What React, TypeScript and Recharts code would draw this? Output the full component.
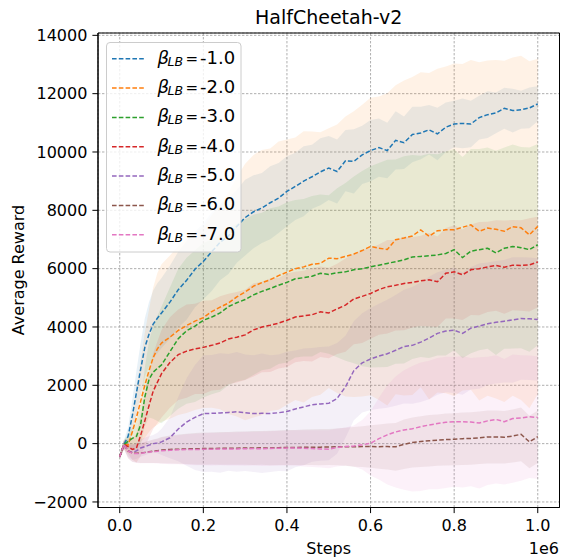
import React from 'react';
import { ComposedChart, Area, Line, XAxis, YAxis, CartesianGrid, ReferenceArea } from 'recharts';

// Steps (in units of 1e6)
const X = [
  0, 0.01, 0.02, 0.03, 0.04, 0.05, 0.06, 0.07, 0.08, 0.09, 0.1,
  0.12, 0.14, 0.16, 0.18, 0.2, 0.22, 0.24, 0.26, 0.28, 0.3,
  0.32, 0.34, 0.36, 0.38, 0.4, 0.42, 0.44, 0.46, 0.48, 0.5,
  0.52, 0.54, 0.56, 0.58, 0.6, 0.62, 0.64, 0.66, 0.68, 0.7,
  0.72, 0.74, 0.76, 0.78, 0.8, 0.82, 0.84, 0.86, 0.88, 0.9,
  0.92, 0.94, 0.96, 0.98, 1.0,
];

const mean1 = [
  -450, -30, 250, 950, 1750, 2550, 3300, 3750, 4100, 4300, 4480,
  4850, 5280, 5600, 5980, 6250, 6580, 6900, 7120, 7450, 7750,
  7950, 8080, 8260, 8420, 8650, 8820, 9000, 9150, 9320, 9450,
  9330, 9700, 9680, 9900, 10050, 10150, 10050, 10400, 10320, 10600,
  10650, 10760, 10620, 10850, 10960, 10980, 10960, 11180, 11280, 11340,
  11500, 11420, 11450, 11510, 11650,
];
const std1 = [
  80, 150, 300, 550, 750, 900, 1000, 1100, 1150, 1200, 1200,
  1250, 1300, 1350, 1300, 1300, 1350, 1300, 1300, 1250, 1300,
  1250, 1200, 1250, 1200, 1200, 1150, 1200, 1100, 1150, 1100,
  1100, 1050, 1100, 1000, 1050, 1000, 950, 1000, 900, 950,
  900, 850, 900, 850, 800, 850, 800, 750, 800, 700,
  700, 750, 650, 700, 600,
];

const mean2 = [
  -450, -30, -50, 400, 900, 1450, 2000, 2500, 2950, 3250, 3450,
  3650, 3880, 4050, 4200, 4320, 4530, 4680, 4820, 5030, 5200,
  5400, 5520, 5620, 5760, 5880, 6000, 6060, 6150, 6180, 6360,
  6340, 6420, 6500, 6620, 6760, 6700, 6660, 6990, 7050, 7120,
  7330, 7110, 7300, 7330, 7330, 7420, 7500, 7280, 7390, 7350,
  7280, 7440, 7400, 7160, 7450,
];
const std2 = [
  80, 150, 300, 600, 1000, 1400, 1800, 2100, 2400, 2600, 2700,
  2800, 2900, 3000, 3050, 3100, 3300, 3500, 3800, 4100, 4400,
  4500, 4550, 4500, 4600, 4550, 4500, 4650, 4550, 4500, 4450,
  4600, 4800, 4900, 5000, 5100, 5200, 5350, 5300, 5400, 5450,
  5400, 5600, 5550, 5600, 5700, 5600, 5650, 5800, 5750, 5800,
  5850, 5800, 5900, 5950, 5750,
];

const mean3 = [
  -450, -30, 80, 180, 250, 650, 1600, 2200, 2450, 2580, 2700,
  3150, 3600, 3870, 4030, 4230, 4340, 4480, 4700, 4830, 4940,
  5100, 5220, 5320, 5430, 5530, 5650, 5690, 5740, 5840, 5800,
  5860, 5890, 5960, 6000, 6060, 6120, 6180, 6240, 6300, 6400,
  6420, 6440, 6470, 6520, 6650, 6380, 6600, 6650, 6700, 6540,
  6700, 6760, 6720, 6650, 6820,
];
const std3 = [
  80, 150, 250, 350, 500, 700, 1000, 1300, 1600, 1800, 2000,
  2200, 2400, 2500, 2600, 2650, 2650, 2700, 2700, 2700, 2750,
  2750, 2700, 2750, 2700, 2750, 2700, 2700, 2750, 2700, 2720,
  2900, 3050, 3200, 3350, 3450, 3500, 3550, 3500, 3550, 3500,
  3450, 3500, 3450, 3500, 3450, 3450, 3500, 3450, 3450, 3500,
  3450, 3500, 3450, 3500, 3450,
];

const mean4 = [
  -450, -30, -100, -200, -150, 280, 780, 1300, 1800, 2100, 2400,
  2780, 3050, 3170, 3250, 3300, 3370, 3450, 3590, 3650, 3730,
  3900, 4000, 4060, 4130, 4230, 4340, 4380, 4420, 4520, 4480,
  4620, 4750, 4960, 5050, 5150, 5280, 5380, 5430, 5490, 5530,
  5580, 5620, 5550, 5840, 5890, 5790, 5960, 6000, 6060, 6110,
  6050, 6120, 6110, 6130, 6230,
];
const std4 = [
  80, 150, 250, 350, 500, 700, 900, 1100, 1300, 1400, 1500,
  1550, 1550, 1600, 1550, 1600, 1550, 1600, 1550, 1550, 1550,
  1600, 1550, 1600, 1550, 1600, 1550, 1550, 1600, 1550, 1550,
  1550, 1600, 1550, 1600, 1550, 1550, 1600, 1550, 1600, 1550,
  1550, 1600, 1550, 1550, 1600, 1550, 1550, 1600, 1550, 1550,
  1600, 1550, 1550, 1600, 1550,
];

const mean5 = [
  -450, -30, -250, -300, -250, -150, -100, -50, 0, 20, 60,
  200, 500, 740, 900, 1030, 1040, 1050, 1070, 1090, 1060,
  1030, 1040, 1030, 1060, 1100, 1190, 1260, 1330, 1360, 1380,
  1550, 1950, 2500, 2770, 2900, 3000, 3080, 3200, 3330, 3370,
  3480, 3620, 3780, 3860, 3890, 3780, 3960, 4030, 4110, 4160,
  4200, 4240, 4290, 4280, 4260,
];
const std5 = [
  80, 150, 200, 250, 280, 300, 300, 300, 300, 350, 450,
  700, 1100, 1500, 1800, 2000, 2000, 2050, 2000, 2050, 2000,
  2000, 2050, 2000, 2000, 2050, 2000, 2000, 1950, 1950, 1950,
  1900, 1750, 1700, 1700, 1750, 1800, 1850, 1900, 1950, 2000,
  2050, 2100, 2100, 2100, 2150, 2100, 2100, 2150, 2100, 2100,
  2100, 2150, 2100, 2100, 2100,
];

const mean6 = [
  -450, -30, -250, -320, -330, -320, -300, -280, -260, -240, -220,
  -200, -190, -180, -175, -170, -165, -160, -160, -155, -150,
  -150, -145, -150, -140, -130, -130, -125, -120, -120, -115,
  -110, -105, -110, -100, -100, -105, -100, -110, -20, 40,
  70, 100, 120, 140, 150, 170, 180, 200, 230, 230,
  220, 260, 320, 60, 240,
];
const std6 = [
  80, 150, 250, 300, 320, 340, 360, 380, 400, 420, 450,
  480, 500, 520, 540, 550, 550, 560, 560, 570, 570,
  580, 580, 590, 590, 600, 600, 610, 610, 620, 620,
  630, 650, 680, 700, 730, 760, 790, 820, 850, 860,
  870, 880, 880, 890, 890, 900, 900, 900, 910, 910,
  900, 910, 920, 900, 900,
];

const mean7 = [
  -450, -30, -250, -330, -340, -330, -310, -290, -270, -260, -240,
  -230, -210, -200, -200, -195, -190, -185, -180, -180, -175,
  -170, -175, -165, -160, -150, -150, -160, -170, -180, -190,
  -130, -100, -80, -40, 10, 170, 300, 400, 470, 510,
  580, 640, 690, 730, 750, 750, 740, 710, 780, 830,
  750, 860, 880, 920, 900,
];
const std7 = [
  80, 150, 250, 300, 320, 340, 360, 380, 400, 420, 450,
  480, 500, 520, 540, 550, 560, 560, 570, 570, 580,
  580, 590, 590, 600, 600, 610, 620, 630, 640, 650,
  650, 650, 700, 850, 1100, 1400, 1700, 1900, 2050, 2150,
  2200, 2200, 2250, 2250, 2230, 2250, 2200, 2250, 2200, 2200,
  2150, 2200, 2150, 2100, 2100,
];

const LABELS = ['-1.0', '-2.0', '-3.0', '-4.0', '-5.0', '-6.0', '-7.0'];
const COLORS = ['#1f77b4', '#ff7f0e', '#2ca02c', '#d62728', '#9467bd', '#8c564b', '#e377c2'];
const MEANS = [mean1, mean2, mean3, mean4, mean5, mean6, mean7];
const STDS = [std1, std2, std3, std4, std5, std6, std7];

const X_TICKS = [0, 0.2, 0.4, 0.6, 0.8, 1.0];
const Y_TICKS = [-2000, 0, 2000, 4000, 6000, 8000, 10000, 12000, 14000];
const X_DOMAIN: [number, number] = [-0.052, 1.052];
const Y_DOMAIN: [number, number] = [-2190, 14080];

const FONT = "'DejaVu Sans', sans-serif";

const data = X.map((x, i) => {
  const row: any = { x };
  MEANS.forEach((m, k) => {
    row['m' + k] = m[i];
    row['b' + k] = [m[i] - STDS[k][i], m[i] + STDS[k][i]];
  });
  return row;
});

const fmtY = (v: number) => (v < 0 ? '\u2212' + Math.abs(v) : String(v));

const W = 561;
const H = 558;
const PLOT_TOP = 33;
const PLOT_LEFT = 98;
const DASH = '4.6 2.2';

export default function App() {
  const tickStyle = { fill: '#000', fontSize: 16, fontFamily: FONT };
  return (
    <div style={{ position: 'absolute', left: 0, top: 0, width: W, height: H, background: '#fff' }}>
      <ComposedChart width={W} height={H} data={data} margin={{ top: PLOT_TOP, right: 1.5, bottom: 0, left: 0 }}>
        <CartesianGrid stroke="#9a9a9a" strokeWidth={0.8} strokeDasharray="2.4 1.6" />
        <XAxis
          dataKey="x"
          type="number"
          domain={X_DOMAIN}
          ticks={X_TICKS}
          allowDataOverflow
          tickFormatter={(v: number) => v.toFixed(1)}
          height={50.5}
          tickSize={5.6}
          tickMargin={7}
          tick={tickStyle}
          axisLine={{ stroke: '#000', strokeWidth: 1 }}
          tickLine={{ stroke: '#000', strokeWidth: 1 }}
        />
        <YAxis
          type="number"
          domain={Y_DOMAIN}
          ticks={Y_TICKS}
          allowDataOverflow
          tickFormatter={fmtY}
          width={PLOT_LEFT}
          tickSize={5.6}
          tickMargin={5}
          tick={tickStyle}
          axisLine={{ stroke: '#000', strokeWidth: 1 }}
          tickLine={{ stroke: '#000', strokeWidth: 1 }}
        />
        {COLORS.map((c, k) => (
          <Area
            key={'a' + k}
            type="linear"
            dataKey={'b' + k}
            stroke="none"
            fill={c}
            fillOpacity={0.1}
            isAnimationActive={false}
            dot={false}
            activeDot={false}
          />
        ))}
        {COLORS.map((c, k) => (
          <Line
            key={'l' + k}
            type="linear"
            dataKey={'m' + k}
            stroke={c}
            strokeWidth={1.5}
            strokeDasharray={DASH}
            dot={false}
            activeDot={false}
            isAnimationActive={false}
          />
        ))}
        <ReferenceArea
          x1={X_DOMAIN[0]}
          x2={X_DOMAIN[1]}
          y1={Y_DOMAIN[0]}
          y2={Y_DOMAIN[1]}
          fill="none"
          fillOpacity={0}
          stroke="#000"
          strokeWidth={1}
        />
      </ComposedChart>
      <svg
        width={W}
        height={H}
        style={{ position: 'absolute', left: 0, top: 0, pointerEvents: 'none' }}
        fontFamily={FONT}
      >
        <text x={328.7} y={24} textAnchor="middle" fontSize={19} fill="#000">HalfCheetah-v2</text>
        <text x={328.7} y={553.5} textAnchor="middle" fontSize={16} fill="#000">Steps</text>
        <text x={559} y={554} textAnchor="end" fontSize={16} fill="#000">1e6</text>
        <text
          x={0}
          y={0}
          transform="translate(23.5 270) rotate(-90)"
          textAnchor="middle"
          fontSize={16}
          fill="#000"
        >
          Average Reward
        </text>
        <rect x={106.5} y={42.5} width={134.5} height={209.5} rx={3.5} fill="#fff" fillOpacity={0.8} stroke="#cccccc" strokeWidth={1} />
        {LABELS.map((lab, i) => {
          const y = 58.7 + i * 29.35;
          return (
            <g key={lab}>
              <line x1={112} x2={145.5} y1={y} y2={y} stroke={COLORS[i]} strokeWidth={1.5} strokeDasharray={DASH} />
              <text x={157.5} y={y + 5} fontSize={18} fill="#000">
                <tspan fontStyle="italic">β</tspan>
                <tspan x={167.5} dy={2} fontSize={12.5} fontStyle="italic">LB</tspan>
                <tspan x={185.5} dy={-2} fontSize={15}>=</tspan>
                <tspan x={200}>{lab}</tspan>
              </text>
            </g>
          );
        })}
      </svg>
    </div>
  );
}
